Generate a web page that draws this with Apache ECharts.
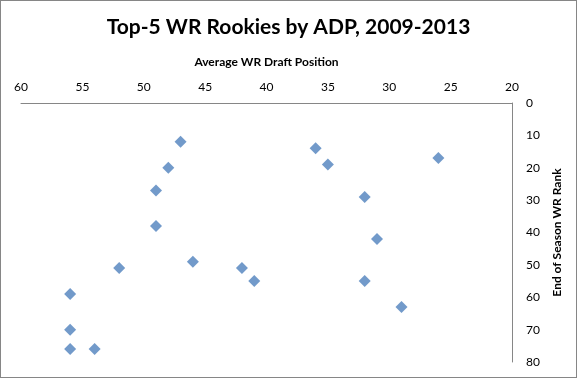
<!DOCTYPE html>
<html>
<head>
<meta charset="utf-8">
<script src="https://cdn.jsdelivr.net/npm/echarts@6/dist/echarts.min.js"></script>
<style>
  html, body { margin: 0; padding: 0; background: #fff; }
  #chart { width: 577px; height: 378px; box-sizing: border-box; border: 1px solid #868686; }
</style>
</head>
<body>
<div id="chart"></div>
<script>
// average draft position (x) and end-of-season rank (y)
const adp  = [47, 48, 49, 36, 35, 26, 32, 49, 52, 46, 42, 41, 56, 56, 56, 54, 31, 32, 29];
const rank = [12, 20, 27, 14, 19, 17, 29, 38, 51, 49, 51, 55, 59, 70, 76, 76, 42, 55, 63];

const points = adp.map((x, i) => [x, rank[i]]);
const font = 'Lato, "Open Sans", sans-serif';

const chart = echarts.init(document.getElementById('chart'));
chart.setOption({
    animation: false,
    title: {
        text: 'Top-5 WR Rookies by ADP, 2009-2013',
        left: 'center',
        top: 11,
        textStyle: { fontFamily: font, fontSize: 21, fontWeight: 'bold', color: '#000' },
    },
    grid: { left: 20, right: 64, top: 102, bottom: 15 },
    xAxis: {
        type: 'value',
        position: 'top',
        inverse: true,
        min: 20, max: 60, interval: 5,
        name: 'Average WR Draft Position',
        nameLocation: 'middle',
        nameGap: 35,
        nameTextStyle: { fontFamily: font, fontSize: 12, fontWeight: 'bold', color: '#000' },
        axisLine: { onZero: false, lineStyle: { color: '#868686', width: 1 } },
        axisTick: { show: false },
        splitLine: { show: false },
        axisLabel: { fontFamily: font, fontSize: 12, color: '#000', margin: 10 },
    },
    yAxis: {
        type: 'value',
        position: 'right',
        inverse: true,
        min: 0, max: 80, interval: 10,
        name: 'End of Season WR Rank',
        nameLocation: 'middle',
        nameGap: 36,
        nameTextStyle: { fontFamily: font, fontSize: 12, fontWeight: 'bold', color: '#000' },
        axisLine: { show: true, onZero: false, lineStyle: { color: '#868686', width: 1 } },
        axisTick: { show: false },
        splitLine: { show: false },
        axisLabel: { fontFamily: font, fontSize: 12, color: '#000', margin: 14 },
    },
    series: [{
        type: 'scatter',
        data: points,
        symbol: 'diamond',
        symbolSize: 12,
        itemStyle: { color: '#4F81BD' },
    }],
});
</script>
</body>
</html>
